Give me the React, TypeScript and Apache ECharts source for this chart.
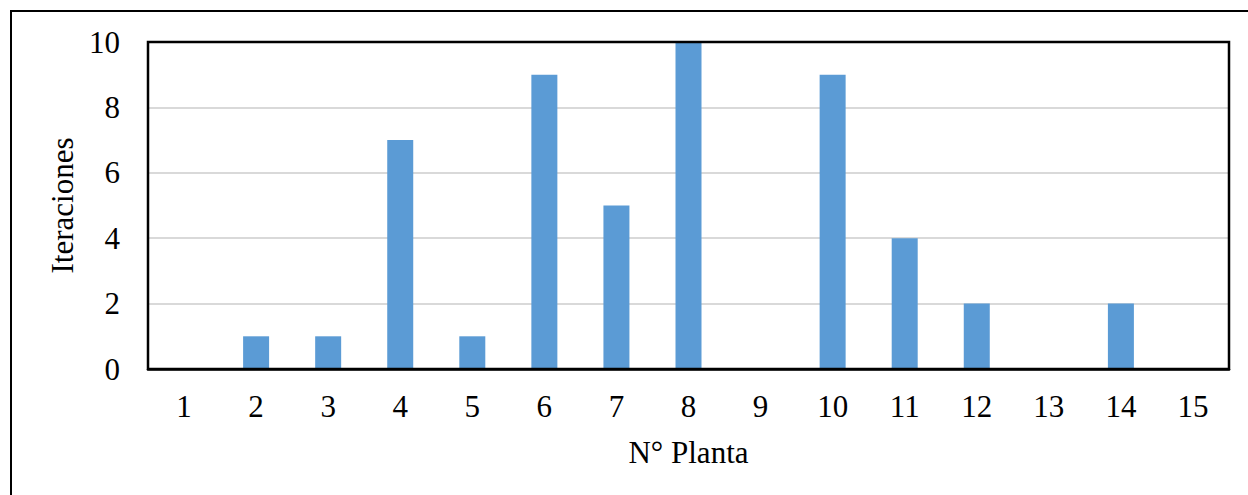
import React, { useEffect, useRef } from "react";
import * as echarts from "echarts";

const categories = ["1", "2", "3", "4", "5", "6", "7", "8", "9", "10", "11", "12", "13", "14", "15"];
const iteraciones = [0, 1, 1, 7, 1, 9, 5, 10, 0, 9, 4, 2, 0, 2, 0];
const xTitle = "N° Planta";
const yTitle = "Iteraciones";

const FONT = "Liberation Serif";

export default function App() {
  const ref = useRef<HTMLDivElement>(null);
  useEffect(() => {
    document.body.style.margin = "0";
    const chart = echarts.init(ref.current!, undefined, { renderer: "svg" });
    const L = 148, R = 19, T = 42, B = 126;
    chart.setOption({
      animation: false,
      backgroundColor: "#ffffff",
      textStyle: { fontFamily: FONT },
      graphic: [
        {
          type: "rect",
          shape: { x: 11, y: 11, width: 1400, height: 700 },
          style: { fill: "none", stroke: "#000", lineWidth: 2 },
          silent: true,
          z: 100,
        },
        {
          type: "rect",
          shape: { x: L, y: T, width: 1248 - L - R, height: 495 - T - B },
          style: { fill: "none", stroke: "#000", lineWidth: 2.5 },
          silent: true,
          z: 100,
        },
      ],
      grid: {
        left: L,
        right: R,
        top: T,
        bottom: B,
        show: false,
        containLabel: false,
      },
      xAxis: {
        type: "category",
        data: categories,
        name: xTitle,
        nameLocation: "middle",
        nameGap: 68,
        nameTextStyle: { fontFamily: FONT, fontSize: 31, color: "#000" },
        axisLine: { show: true, lineStyle: { color: "#000", width: 2.5 } },
        axisTick: { show: false },
        axisLabel: { fontFamily: FONT, fontSize: 31, color: "#000", margin: 22 },
      },
      yAxis: {
        type: "value",
        min: 0,
        max: 10,
        interval: 2,
        name: yTitle,
        nameLocation: "middle",
        nameGap: 68,
        nameTextStyle: { fontFamily: FONT, fontSize: 31, color: "#000" },
        axisLine: { show: false },
        axisTick: { show: false },
        axisLabel: { fontFamily: FONT, fontSize: 31, color: "#000", margin: 28 },
        splitLine: { show: true, lineStyle: { color: "#d9d9d9", width: 2 } },
      },
      series: [
        {
          type: "bar",
          data: iteraciones,
          barWidth: 26,
          itemStyle: { color: "#5b9bd5" },
        },
      ],
    });
    return () => chart.dispose();
  }, []);
  return <div ref={ref} style={{ position: "absolute", left: 0, top: 0, width: 1248, height: 495 }} />;
}
